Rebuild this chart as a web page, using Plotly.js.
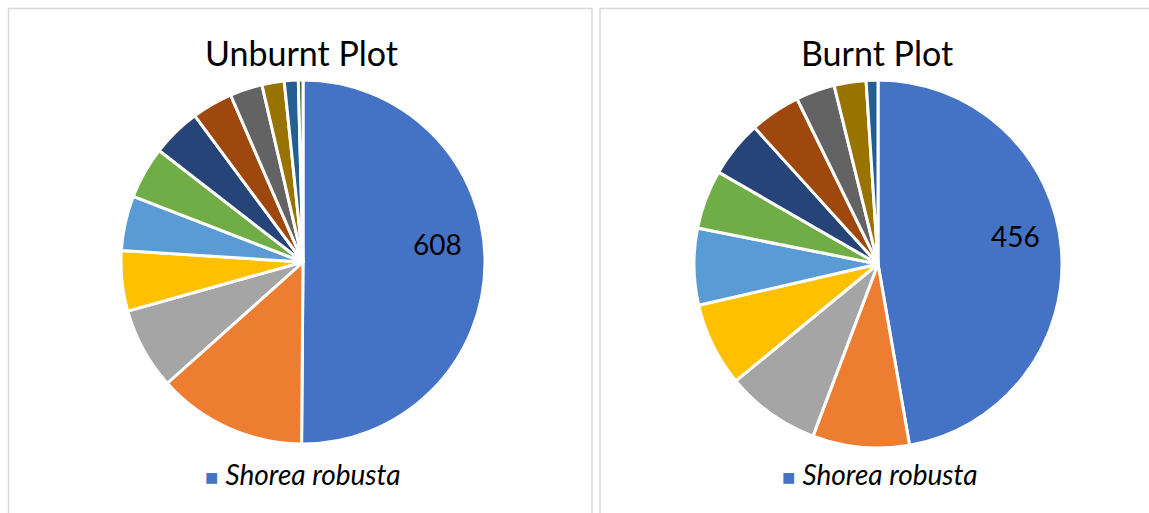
<!DOCTYPE html>
<html>
<head>
<meta charset="utf-8">
<script src="https://cdn.plot.ly/plotly-3.0.1.min.js"></script>
<style>html,body{margin:0;padding:0;background:#fff;}#chart{width:1149px;height:513px;}</style>
</head>
<body>
<div id="chart"></div>
<script>
const species = ["Shorea robusta","Species 2","Species 3","Species 4","Species 5","Species 6","Species 7","Species 8","Species 9","Species 10","Species 11","Species 12"];
const unburntValues = [608,161,88,65,59,56,53,44,35,24,15,5];
const burntValues = [456,82,80,71,65,50,48,43,33,27,10];
const sliceColors = ["#4472C4","#ED7D31","#A5A5A5","#FFC000","#5B9BD5","#70AD47","#264478","#9E480E","#636363","#997300","#255E91","#43682B"];
const panelTitles = ["Unburnt Plot","Burnt Plot"];
const legendLabel = "Shorea robusta";

const W = 1149, H = 513;
const px = v => v / W;
const py = v => 1 - v / H;
const FONT = "Lato, sans-serif";

function pieTrace(vals, dom) {
  return {
    type: "pie",
    labels: species.slice(0, vals.length),
    values: vals,
    sort: false,
    direction: "clockwise",
    rotation: 0,
    marker: {colors: sliceColors.slice(0, vals.length), line: {color: "#ffffff", width: 3}},
    textinfo: "none",
    hoverinfo: "label+value",
    showlegend: false,
    domain: dom
  };
}

const data = [
  pieTrace(unburntValues, {x: [px(121), px(485)], y: [py(444), py(80)]}),
  pieTrace(burntValues, {x: [px(694), px(1062)], y: [py(448), py(80)]})
];

function legendAnn(x) {
  return {text: "<span style='color:" + sliceColors[0] + ";font-size:22px'>■</span> <i>" + legendLabel + "</i>",
    xref: "paper", yref: "paper", x: px(x), y: py(474), showarrow: false, xanchor: "left", yanchor: "middle",
    font: {family: FONT, size: 28, color: "#000000"}};
}

const layout = {
  width: W, height: H,
  margin: {l: 0, r: 0, t: 0, b: 0},
  paper_bgcolor: "#ffffff",
  showlegend: false,
  shapes: [
    {type: "rect", xref: "paper", yref: "paper", x0: px(8.5), x1: px(592), y0: py(520), y1: py(8.5), line: {color: "#D9D9D9", width: 1.5}},
    {type: "rect", xref: "paper", yref: "paper", x0: px(600), x1: px(1160), y0: py(520), y1: py(8.5), line: {color: "#D9D9D9", width: 1.5}}
  ],
  annotations: [
    {text: panelTitles[0], xref: "paper", yref: "paper", x: px(301), y: py(52), showarrow: false, xanchor: "center", yanchor: "middle", font: {family: FONT, size: 34, color: "#000000"}},
    {text: panelTitles[1], xref: "paper", yref: "paper", x: px(877), y: py(52), showarrow: false, xanchor: "center", yanchor: "middle", font: {family: FONT, size: 34, color: "#000000"}},
    {text: String(unburntValues[0]), xref: "paper", yref: "paper", x: px(437), y: py(244), showarrow: false, xanchor: "center", yanchor: "middle", font: {family: FONT, size: 28, color: "#000000"}},
    {text: String(burntValues[0]), xref: "paper", yref: "paper", x: px(1015), y: py(236), showarrow: false, xanchor: "center", yanchor: "middle", font: {family: FONT, size: 28, color: "#000000"}},
    legendAnn(203),
    legendAnn(780)
  ]
};

Plotly.newPlot("chart", data, layout, {displayModeBar: false, staticPlot: true});
</script>
</body>
</html>
